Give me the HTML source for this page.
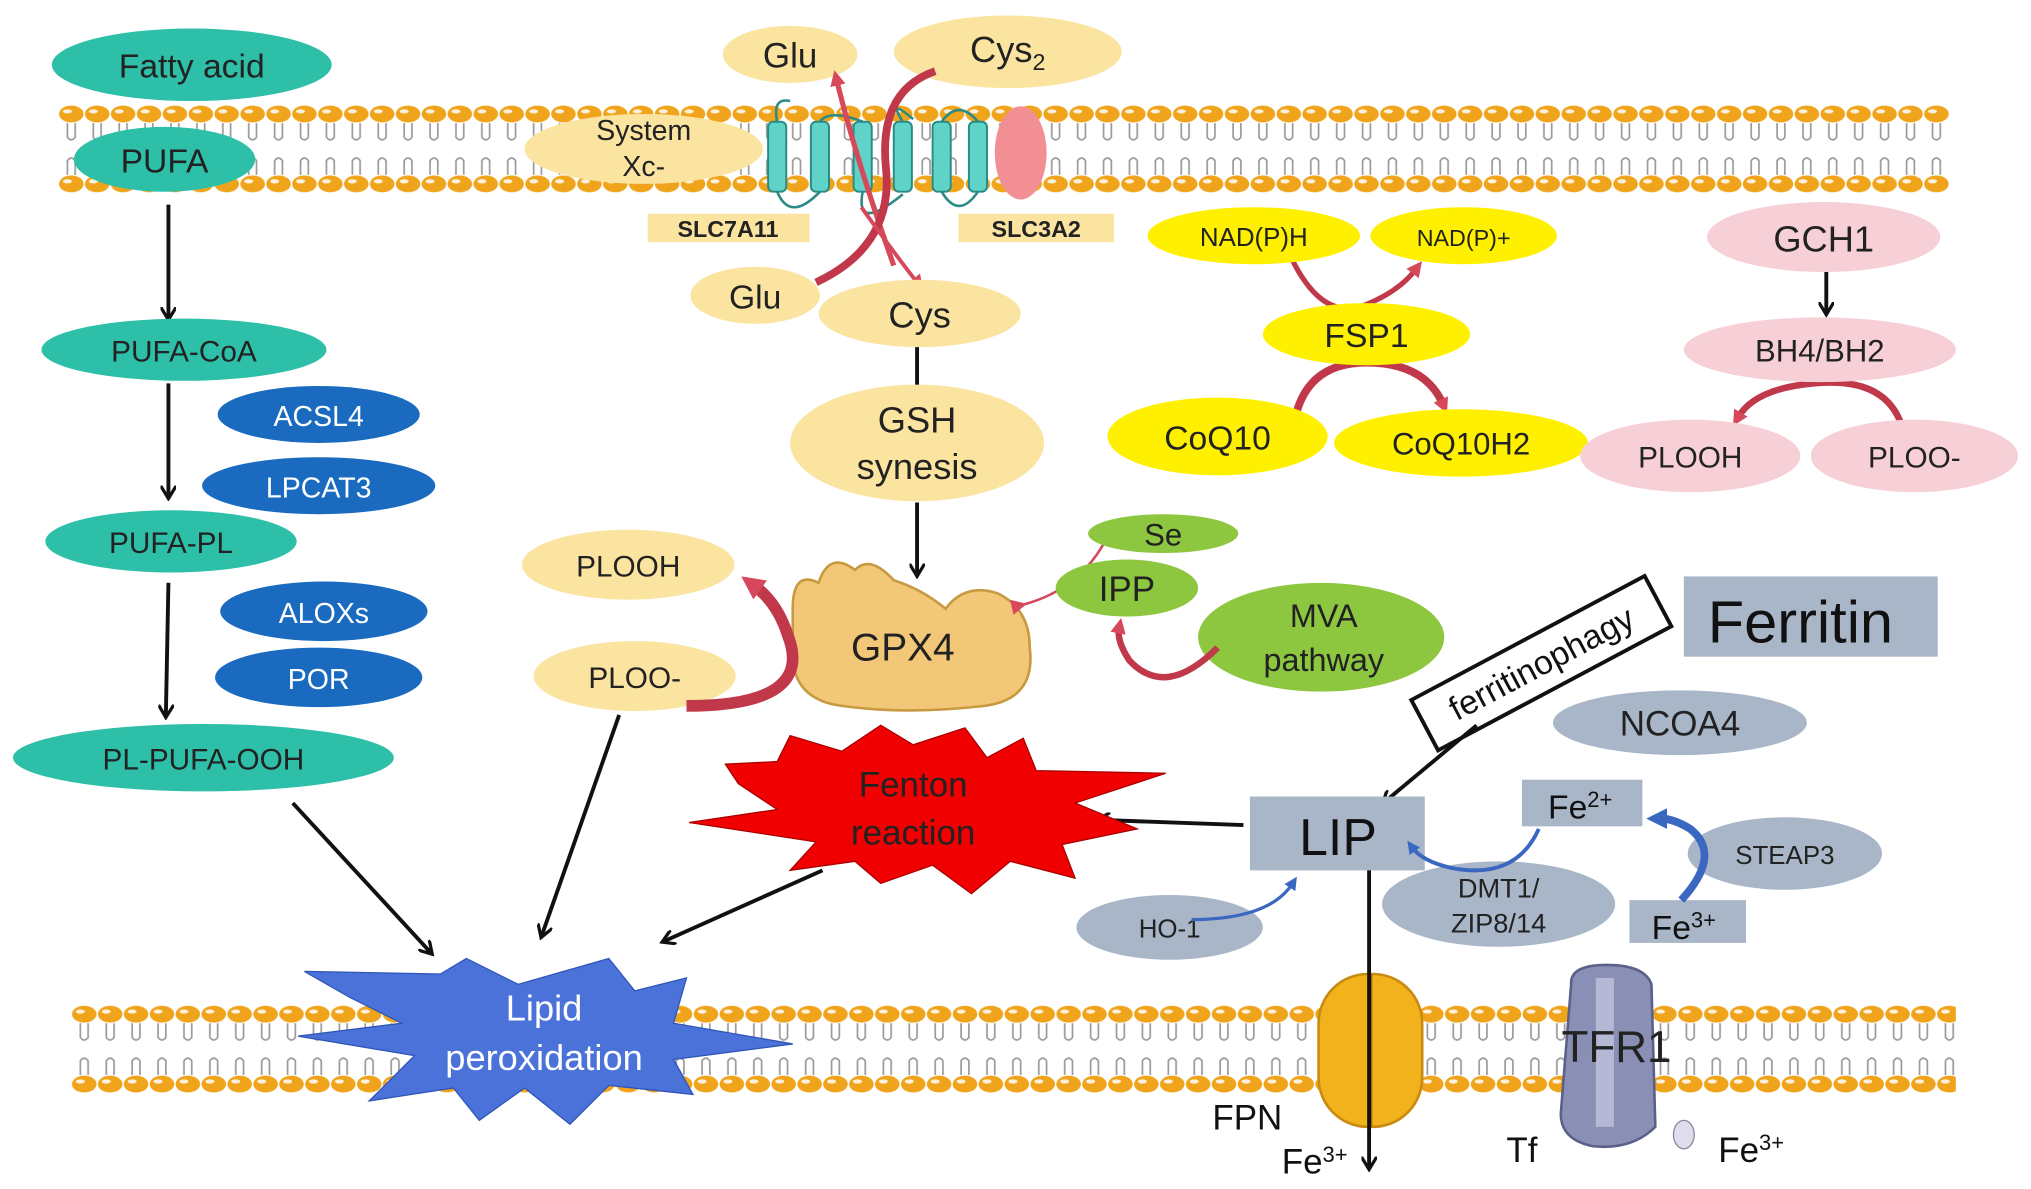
<!DOCTYPE html>
<html><head><meta charset="utf-8"><style>
html,body{margin:0;padding:0;background:#fff;}
svg{display:block;}
text{font-family:"Liberation Sans",Arial,sans-serif;}
</style></head><body>
<svg width="2031" height="1189" viewBox="0 0 1568 918" xmlns="http://www.w3.org/2000/svg">
<defs>
<g id="unit">
<ellipse cx="10" cy="8" rx="9.5" ry="6.5" fill="#f0a41c"/>
<ellipse cx="10" cy="62" rx="9.5" ry="6.5" fill="#f0a41c"/>
<ellipse cx="7" cy="6" rx="3.5" ry="1.6" fill="#fff" opacity="0.85"/>
<ellipse cx="7" cy="60" rx="3.5" ry="1.6" fill="#fff" opacity="0.85"/>
<path d="M7 15 V26 Q10 30 13 26 V15 M7 55 V44 Q10 40 13 44 V55" fill="none" stroke="#999" stroke-width="1.3"/>
</g>
<pattern id="mem1" x="45" y="80" width="20" height="70" patternUnits="userSpaceOnUse"><use href="#unit"/></pattern>
<pattern id="mem2" x="55" y="775" width="20" height="70" patternUnits="userSpaceOnUse"><use href="#unit"/></pattern>
<marker id="ah" markerWidth="12" markerHeight="12" refX="9" refY="6" orient="auto" markerUnits="userSpaceOnUse"><path d="M0 0 L10 6 L0 12" fill="none" stroke="#111" stroke-width="2.5"/></marker>
<marker id="rh" markerWidth="18" markerHeight="18" refX="6" refY="9" orient="auto" markerUnits="userSpaceOnUse"><path d="M0 0 L18 9 L0 18 Z" fill="#d6485a"/></marker>
<marker id="rs" markerWidth="12" markerHeight="12" refX="4" refY="6" orient="auto" markerUnits="userSpaceOnUse"><path d="M0 0 L12 6 L0 12 Z" fill="#d6485a"/></marker>
<marker id="bh" markerWidth="16" markerHeight="16" refX="5" refY="8" orient="auto" markerUnits="userSpaceOnUse"><path d="M0 0 L16 8 L0 16 Z" fill="#3a68c0"/></marker>
<marker id="bs" markerWidth="10" markerHeight="10" refX="4" refY="5" orient="auto" markerUnits="userSpaceOnUse"><path d="M0 0 L10 5 L0 10 Z" fill="#3a68c0"/></marker>
</defs>
<rect x="45" y="80" width="1460" height="70" fill="url(#mem1)"/>
<rect x="55" y="775" width="1455" height="70" fill="url(#mem2)"/>

<ellipse cx="148" cy="50" rx="108" ry="28" fill="#2dbfa8"/>
<text x="148" y="60" font-size="26" text-anchor="middle" fill="#222">Fatty acid</text>
<ellipse cx="127" cy="123" rx="70" ry="25" fill="#2dbfa8"/>
<text x="127" y="133" font-size="26" text-anchor="middle" fill="#222">PUFA</text>
<line x1="130" y1="158" x2="130" y2="246" stroke="#111" stroke-width="3" marker-end="url(#ah)"/>
<ellipse cx="142" cy="270" rx="110" ry="24" fill="#2dbfa8"/>
<text x="142" y="279" font-size="23" text-anchor="middle" fill="#222">PUFA-CoA</text>
<line x1="130" y1="296" x2="130" y2="384" stroke="#111" stroke-width="3" marker-end="url(#ah)"/>
<ellipse cx="246" cy="320" rx="78" ry="22" fill="#1a6bbf"/>
<text x="246" y="329" font-size="22" text-anchor="middle" fill="#fff">ACSL4</text>
<ellipse cx="246" cy="375" rx="90" ry="22" fill="#1a6bbf"/>
<text x="246" y="384" font-size="22" text-anchor="middle" fill="#fff">LPCAT3</text>
<ellipse cx="132" cy="418" rx="97" ry="24" fill="#2dbfa8"/>
<text x="132" y="427" font-size="23" text-anchor="middle" fill="#222">PUFA-PL</text>
<line x1="130" y1="450" x2="128" y2="553" stroke="#111" stroke-width="3" marker-end="url(#ah)"/>
<ellipse cx="250" cy="472" rx="80" ry="23" fill="#1a6bbf"/>
<text x="250" y="481" font-size="22" text-anchor="middle" fill="#fff">ALOXs</text>
<ellipse cx="246" cy="523" rx="80" ry="23" fill="#1a6bbf"/>
<text x="246" y="532" font-size="22" text-anchor="middle" fill="#fff">POR</text>
<ellipse cx="157" cy="585" rx="147" ry="26" fill="#2dbfa8"/>
<text x="157" y="594" font-size="23" text-anchor="middle" fill="#222">PL-PUFA-OOH</text>
<line x1="226" y1="620" x2="333" y2="736" stroke="#111" stroke-width="3" marker-end="url(#ah)"/>

<ellipse cx="610" cy="42" rx="52" ry="22" fill="#fbe3a0"/>
<text x="610" y="52" font-size="27" text-anchor="middle" fill="#222">Glu</text>
<ellipse cx="778" cy="40" rx="88" ry="28" fill="#fbe3a0"/>
<text x="778" y="48" font-size="28" text-anchor="middle" fill="#222">Cys<tspan font-size="18" dy="6">2</tspan></text>
<ellipse cx="497" cy="115" rx="92" ry="27" fill="#fbe3a0"/>
<text x="497" y="108" font-size="22" text-anchor="middle" fill="#222">System</text>
<text x="497" y="136" font-size="22" text-anchor="middle" fill="#222">Xc-</text>
<g fill="#5fd3c8" stroke="#2a8a84" stroke-width="1.5">
<rect x="593" y="94" width="14" height="54" rx="4"/><rect x="626" y="94" width="14" height="54" rx="4"/><rect x="659" y="94" width="14" height="54" rx="4"/><rect x="690" y="94" width="14" height="54" rx="4"/><rect x="720" y="94" width="14" height="54" rx="4"/><rect x="748" y="94" width="14" height="54" rx="4"/>
</g>
<path d="M600 94 Q596 75 610 78 M633 94 Q640 84 666 94 M697 94 Q685 75 705 92 M727 94 Q740 76 755 94 M600 148 Q610 172 633 148 M666 148 Q660 180 697 150 M727 148 Q740 170 755 148" fill="none" stroke="#2a8a84" stroke-width="2"/>
<ellipse cx="788" cy="118" rx="20" ry="36" fill="#f28f95"/>
<rect x="500" y="165" width="125" height="22" fill="#fbe3a0"/>
<text x="562" y="183" font-size="18" font-weight="bold" text-anchor="middle" fill="#222">SLC7A11</text>
<rect x="740" y="165" width="120" height="22" fill="#fbe3a0"/>
<text x="800" y="183" font-size="18" font-weight="bold" text-anchor="middle" fill="#222">SLC3A2</text>
<path d="M690 205 Q660 120 646 62" fill="none" stroke="#d6485a" stroke-width="4" marker-end="url(#rs)"/>
<path d="M630 218 Q690 190 684 130 Q678 70 722 55" fill="none" stroke="#c0384a" stroke-width="6"/>
<path d="M665 160 Q690 195 708 218" fill="none" stroke="#d6485a" stroke-width="3" marker-end="url(#rs)"/>
<ellipse cx="583" cy="228" rx="50" ry="22" fill="#fbe3a0"/>
<text x="583" y="238" font-size="26" text-anchor="middle" fill="#222">Glu</text>
<ellipse cx="710" cy="242" rx="78" ry="26" fill="#fbe3a0"/>
<text x="710" y="253" font-size="28" text-anchor="middle" fill="#222">Cys</text>
<line x1="708" y1="268" x2="708" y2="308" stroke="#111" stroke-width="3" marker-end="url(#ah)"/>
<ellipse cx="708" cy="342" rx="98" ry="45" fill="#fbe3a0"/>
<text x="708" y="334" font-size="28" text-anchor="middle" fill="#222">GSH</text>
<text x="708" y="370" font-size="28" text-anchor="middle" fill="#222">synesis</text>
<line x1="708" y1="388" x2="708" y2="444" stroke="#111" stroke-width="3" marker-end="url(#ah)"/>

<path d="M612 470 Q612 440 632 450 Q640 425 660 440 Q672 428 690 448 Q712 455 730 470 Q745 450 770 458 Q795 470 795 500 Q800 540 760 545 Q700 552 650 545 Q612 540 612 505 Z" fill="#f2c777" stroke="#c79a40" stroke-width="2"/>
<text x="697" y="510" font-size="30" text-anchor="middle" fill="#222">GPX4</text>
<ellipse cx="485" cy="436" rx="82" ry="27" fill="#fbe3a0"/>
<text x="485" y="445" font-size="23" text-anchor="middle" fill="#222">PLOOH</text>
<ellipse cx="490" cy="522" rx="78" ry="27" fill="#fbe3a0"/>
<text x="490" y="531" font-size="23" text-anchor="middle" fill="#222">PLOO-</text>
<path d="M530 545 Q630 545 608 490 Q600 465 582 452" fill="none" stroke="#c0384a" stroke-width="9" marker-end="url(#rh)"/>
<path d="M785 468 Q830 458 852 420" fill="none" stroke="#d6485a" stroke-width="2" marker-start="url(#rs)"/>
<ellipse cx="898" cy="412" rx="58" ry="15" fill="#8dc63f"/>
<text x="898" y="421" font-size="24" text-anchor="middle" fill="#222">Se</text>
<ellipse cx="870" cy="454" rx="55" ry="22" fill="#8dc63f"/>
<text x="870" y="464" font-size="27" text-anchor="middle" fill="#222">IPP</text>
<ellipse cx="1020" cy="492" rx="95" ry="42" fill="#8dc63f"/>
<text x="1022" y="484" font-size="25" text-anchor="middle" fill="#222">MVA</text>
<text x="1022" y="518" font-size="25" text-anchor="middle" fill="#222">pathway</text>
<path d="M940 500 Q900 540 872 510 Q862 495 864 485" fill="none" stroke="#c0384a" stroke-width="5" marker-end="url(#rs)"/>

<path d="M995 195 Q1020 250 1055 235 Q1080 225 1093 208" fill="none" stroke="#c0384a" stroke-width="4" marker-end="url(#rs)"/>
<ellipse cx="968" cy="182" rx="82" ry="22" fill="#fff000"/>
<text x="968" y="190" font-size="20" text-anchor="middle" fill="#222">NAD(P)H</text>
<ellipse cx="1130" cy="182" rx="72" ry="22" fill="#fff000"/>
<text x="1130" y="190" font-size="18" text-anchor="middle" fill="#222">NAD(P)+</text>
<path d="M1000 322 Q1010 280 1055 280 Q1100 280 1114 312" fill="none" stroke="#c0384a" stroke-width="6" marker-end="url(#rs)"/>
<ellipse cx="1055" cy="258" rx="80" ry="24" fill="#fff000"/>
<text x="1055" y="268" font-size="26" text-anchor="middle" fill="#222">FSP1</text>
<ellipse cx="940" cy="337" rx="85" ry="30" fill="#fff000"/>
<text x="940" y="347" font-size="26" text-anchor="middle" fill="#222">CoQ10</text>
<ellipse cx="1128" cy="342" rx="98" ry="26" fill="#fff000"/>
<text x="1128" y="351" font-size="24" text-anchor="middle" fill="#222">CoQ10H2</text>

<ellipse cx="1408" cy="183" rx="90" ry="27" fill="#f6d0d6"/>
<text x="1408" y="194" font-size="28" text-anchor="middle" fill="#222">GCH1</text>
<line x1="1410" y1="210" x2="1410" y2="242" stroke="#111" stroke-width="3" marker-end="url(#ah)"/>
<path d="M1470 335 Q1460 290 1400 296 Q1355 300 1342 322" fill="none" stroke="#c0384a" stroke-width="5" marker-end="url(#rs)"/>
<ellipse cx="1405" cy="270" rx="105" ry="25" fill="#f6d0d6"/>
<text x="1405" y="279" font-size="24" text-anchor="middle" fill="#222">BH4/BH2</text>
<ellipse cx="1305" cy="352" rx="85" ry="28" fill="#f6d0d6"/>
<text x="1305" y="361" font-size="23" text-anchor="middle" fill="#222">PLOOH</text>
<ellipse cx="1478" cy="352" rx="80" ry="28" fill="#f6d0d6"/>
<text x="1478" y="361" font-size="23" text-anchor="middle" fill="#222">PLOO-</text>

<rect x="1300" y="445" width="196" height="62" fill="#a9b6c8"/>
<text x="1390" y="496" font-size="46" text-anchor="middle" fill="#111">Ferritin</text>
<g transform="rotate(-28 1190 512)">
<rect x="1088" y="490" width="204" height="44" fill="#fff" stroke="#111" stroke-width="3"/>
<text x="1190" y="521" font-size="26" text-anchor="middle" fill="#111">ferritinophagy</text>
</g>
<ellipse cx="1297" cy="558" rx="98" ry="25" fill="#a9b6c8"/>
<text x="1297" y="568" font-size="27" text-anchor="middle" fill="#222">NCOA4</text>
<line x1="1140" y1="560" x2="1068" y2="620" stroke="#111" stroke-width="3" marker-end="url(#ah)"/>
<rect x="965" y="615" width="135" height="57" fill="#a9b6c8"/>
<text x="1033" y="660" font-size="40" text-anchor="middle" fill="#111">LIP</text>
<line x1="960" y1="637" x2="848" y2="633" stroke="#111" stroke-width="3" marker-end="url(#ah)"/>
<rect x="1175" y="602" width="93" height="36" fill="#a9b6c8"/>
<text x="1220" y="632" font-size="26" text-anchor="middle" fill="#111">Fe<tspan font-size="17" dy="-9">2+</tspan></text>
<ellipse cx="1378" cy="659" rx="75" ry="28" fill="#a9b6c8"/>
<text x="1378" y="667" font-size="20" text-anchor="middle" fill="#222">STEAP3</text>
<rect x="1258" y="695" width="90" height="33" fill="#a9b6c8"/>
<text x="1300" y="725" font-size="26" text-anchor="middle" fill="#111">Fe<tspan font-size="17" dy="-9">3+</tspan></text>
<ellipse cx="1157" cy="698" rx="90" ry="33" fill="#a9b6c8"/>
<text x="1157" y="693" font-size="21" text-anchor="middle" fill="#222">DMT1/</text>
<text x="1157" y="720" font-size="21" text-anchor="middle" fill="#222">ZIP8/14</text>
<ellipse cx="903" cy="716" rx="72" ry="25" fill="#a9b6c8"/>
<text x="903" y="724" font-size="20" text-anchor="middle" fill="#222">HO-1</text>
<path d="M1298 695 Q1330 660 1305 640 Q1292 632 1282 632" fill="none" stroke="#3a68c0" stroke-width="6" marker-end="url(#bh)"/>
<path d="M1188 640 Q1170 680 1120 670 Q1098 665 1090 654" fill="none" stroke="#3a68c0" stroke-width="3" marker-end="url(#bs)"/>
<path d="M920 710 Q980 710 998 682" fill="none" stroke="#3a68c0" stroke-width="2.5" marker-end="url(#bs)"/>

<polygon points="560,590 600,588 610,568 650,580 680,560 705,575 745,562 762,585 790,570 800,595 900,597 830,620 878,640 820,652 830,678 780,665 750,690 720,668 680,682 660,665 610,672 630,650 532,635 600,625 570,605" fill="#f00000" stroke="#aa0000" stroke-width="1"/>
<text x="705" y="615" font-size="27" text-anchor="middle" fill="#222">Fenton</text>
<text x="705" y="652" font-size="27" text-anchor="middle" fill="#222">reaction</text>
<line x1="635" y1="672" x2="512" y2="727" stroke="#111" stroke-width="3" marker-end="url(#ah)"/>
<line x1="478" y1="552" x2="418" y2="723" stroke="#111" stroke-width="3" marker-end="url(#ah)"/>

<rect x="1018" y="752" width="80" height="118" rx="38" fill="#f2b21c" stroke="#c88a10" stroke-width="2"/>
<line x1="1058" y1="752" x2="1058" y2="870" stroke="#a86c08" stroke-width="3"/>
<path d="M1213 760 Q1212 745 1240 745 Q1270 745 1275 760 L1278 870 Q1260 888 1230 885 Q1205 880 1205 860 Z" fill="#8a90b5" stroke="#5a608a" stroke-width="2"/>
<rect x="1232" y="755" width="14" height="115" fill="#b5b9d5"/>
<ellipse cx="1300" cy="876" rx="8" ry="11" fill="#dde" stroke="#889" stroke-width="1"/>
<text x="1248" y="820" font-size="34" text-anchor="middle" fill="#222">TFR1</text>
<line x1="1057" y1="672" x2="1057" y2="902" stroke="#111" stroke-width="3" marker-end="url(#ah)"/>
<text x="963" y="872" font-size="27" text-anchor="middle" fill="#111">FPN</text>
<text x="1015" y="906" font-size="27" text-anchor="middle" fill="#111">Fe<tspan font-size="17" dy="-9">3+</tspan></text>
<text x="1175" y="897" font-size="27" text-anchor="middle" fill="#111">Tf</text>
<text x="1352" y="897" font-size="27" text-anchor="middle" fill="#111">Fe<tspan font-size="17" dy="-9">3+</tspan></text>

<polygon points="235,750 340,752 360,740 400,760 470,740 490,765 530,755 520,790 612,806 520,818 535,845 470,838 440,868 405,840 370,865 350,840 285,850 320,815 230,800 310,790 270,770" fill="#4a72d8" stroke="#2f55b8" stroke-width="1"/>
<text x="420" y="788" font-size="28" text-anchor="middle" fill="#fff">Lipid</text>
<text x="420" y="826" font-size="28" text-anchor="middle" fill="#fff">peroxidation</text>
</svg>
</body></html>
